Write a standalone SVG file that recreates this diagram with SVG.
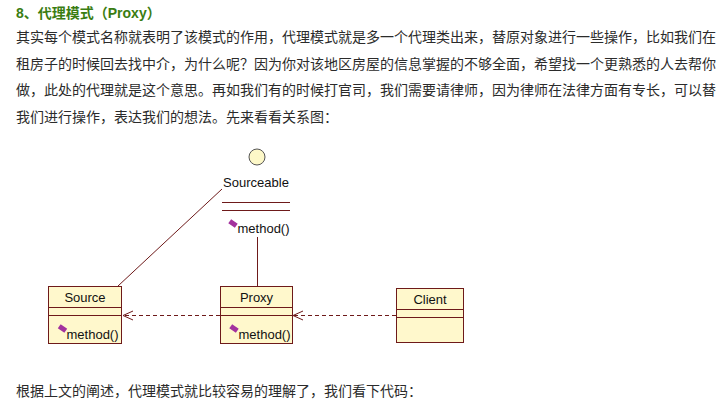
<svg xmlns="http://www.w3.org/2000/svg" width="725" height="405" viewBox="0 0 725 405">
<defs>
<style>
.title{font-family:"Liberation Sans","Noto Sans CJK SC",sans-serif;font-size:14px;font-weight:bold;fill:#3a7d12}
.body{font-family:"Liberation Sans","Noto Sans CJK SC",sans-serif;font-size:14px;fill:#2b2b2b}
.box{fill:#fff8cc;stroke:#6e1a1a;stroke-width:1}
.sep{stroke:#6e1a1a;stroke-width:1}
.lbl{font-family:"Liberation Sans",Arial,sans-serif;font-size:13px;fill:#111}
.dia{fill:#a3329e}
.conn{stroke:#6e1a1a;stroke-width:1;fill:none}
.dash{stroke-dasharray:4 3}
</style>
<marker id="open" markerWidth="12" markerHeight="12" refX="11" refY="6" orient="auto" markerUnits="userSpaceOnUse">
<path d="M1,1.5 L11,6 L1,10.5" fill="none" stroke="#6e1a1a" stroke-width="1"/>
</marker>
</defs>
<rect width="725" height="405" fill="#ffffff"/>
<text class="title" x="16" y="18">8、代理模式（Proxy）</text>
<text class="body" x="16" y="42">其实每个模式名称就表明了该模式的作用，代理模式就是多一个代理类出来，替原对象进行一些操作，比如我们在</text>
<text class="body" x="16" y="68.5">租房子的时候回去找中介，为什么呢？因为你对该地区房屋的信息掌握的不够全面，希望找一个更熟悉的人去帮你</text>
<text class="body" x="16" y="95">做，此处的代理就是这个意思。再如我们有的时候打官司，我们需要请律师，因为律师在法律方面有专长，可以替</text>
<text class="body" x="16" y="121.5">我们进行操作，表达我们的想法。先来看看关系图：</text>

<g id="connectors">
<line class="conn" x1="118" y1="286" x2="222" y2="189"/>
<line class="conn" x1="257.5" y1="237" x2="257.5" y2="286"/>
<line class="conn dash" x1="220" y1="315.5" x2="123" y2="315.5" marker-end="url(#open)"/>
<line class="conn dash" x1="396" y1="315.5" x2="293" y2="315.5" marker-end="url(#open)"/>
</g>

<g id="Sourceable">
<circle cx="257" cy="157" r="8" fill="#fdf8c8" stroke="#555" stroke-width="1"/>
<text class="lbl" x="256" y="187" text-anchor="middle">Sourceable</text>
<line class="sep" x1="222" y1="202.5" x2="290" y2="202.5"/>
<line class="sep" x1="222" y1="210.5" x2="290" y2="210.5"/>
<rect class="dia" x="229" y="221" width="8" height="5" transform="rotate(35 233 223.5)"/>
<text class="lbl" x="237.5" y="233">method()</text>
</g>

<g id="Source">
<rect class="box" x="48.5" y="286.5" width="73" height="57"/>
<text class="lbl" x="85" y="302" text-anchor="middle">Source</text>
<line class="sep" x1="48.5" y1="307.5" x2="121.5" y2="307.5"/>
<line class="sep" x1="48.5" y1="315.5" x2="121.5" y2="315.5"/>
<rect class="dia" x="58.5" y="326" width="8" height="5" transform="rotate(35 62.5 328.5)"/>
<text class="lbl" x="66.5" y="339">method()</text>
</g>

<g id="Proxy">
<rect class="box" x="220.5" y="286.5" width="72" height="57"/>
<text class="lbl" x="256.5" y="302" text-anchor="middle">Proxy</text>
<line class="sep" x1="220.5" y1="307.5" x2="292.5" y2="307.5"/>
<line class="sep" x1="220.5" y1="315.5" x2="292.5" y2="315.5"/>
<rect class="dia" x="230" y="326" width="8" height="5" transform="rotate(35 234 328.5)"/>
<text class="lbl" x="238.5" y="339">method()</text>
</g>

<g id="Client">
<rect class="box" x="396.5" y="288.5" width="67" height="54"/>
<text class="lbl" x="430" y="304" text-anchor="middle">Client</text>
<line class="sep" x1="396.5" y1="309.5" x2="463.5" y2="309.5"/>
<line class="sep" x1="396.5" y1="317.5" x2="463.5" y2="317.5"/>
</g>

<text class="body" x="16" y="396">根据上文的阐述，代理模式就比较容易的理解了，我们看下代码：</text>
</svg>
